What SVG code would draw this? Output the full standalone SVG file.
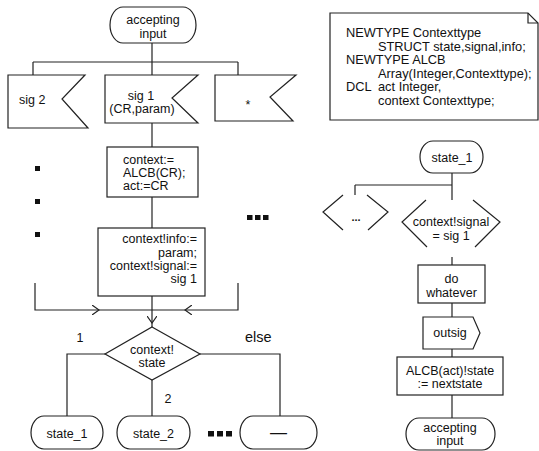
<svg xmlns="http://www.w3.org/2000/svg" width="539" height="451" viewBox="0 0 539 451">
  <defs>
    <style>
      .shape { fill: #fff; stroke: #222; stroke-width: 1.2; }
      .open { fill: none; stroke: #222; stroke-width: 1.2; }
      .line { fill: none; stroke: #222; stroke-width: 1.2; }
      .t { font-family: "Liberation Sans", Arial, Helvetica, sans-serif; font-size: 12.5px; fill: #111; }
      .c { text-anchor: middle; }
      .r { text-anchor: end; }
      .note { font-size: 12.8px; }
      .dot { fill: #111; }
    </style>
    <marker id="chev" viewBox="0 0 8 10" refX="7" refY="5" markerWidth="8" markerHeight="10" markerUnits="userSpaceOnUse" orient="auto">
      <path d="M0,0 L7,5 L0,10" fill="none" stroke="#222" stroke-width="1.2"/>
    </marker>
  </defs>

  <rect width="539" height="451" fill="#fff"/>

  <!-- connectors -->
  <g id="connectors">
    <!-- left process -->
    <path class="line" d="M152,43 V62 M33,62 H238 M33,62 V75 M152,62 V75 M238,62 V75"/>
    <path class="line" d="M152,123 V147"/>
    <path class="line" d="M152,197 V228"/>
    <path class="line" d="M152,296 V323" marker-end="url(#chev)"/>
    <path class="line" d="M152,323 V327"/>
    <path class="line" d="M35,283 V310 H99" marker-end="url(#chev)"/>
    <path class="line" d="M99,310 H152"/>
    <path class="line" d="M238,283 V310 H185" marker-end="url(#chev)"/>
    <path class="line" d="M185,310 H152"/>
    <path class="line" d="M105,354 H67 V416"/>
    <path class="line" d="M152,380 V416"/>
    <path class="line" d="M200,354 H280 V416"/>
    <!-- right process -->
    <path class="line" d="M452,173 V185 M355,185 H452 M355,185 V195 M452,185 V200"/>
    <path class="line" d="M452,257 V265"/>
    <path class="line" d="M452,303 V317"/>
    <path class="line" d="M452,349 V357"/>
    <path class="line" d="M452,395 V418"/>
  </g>

  <!-- left process: start state -->
  <g id="start-accepting">
    <path class="shape" d="M123,7 H183 A13,18 0 0 1 183,43 H123 A13,18 0 0 1 123,7 Z"/>
    <text class="t c" x="153" y="24">accepting</text>
    <text class="t c" x="153" y="37.5">input</text>
  </g>

  <!-- inputs -->
  <g id="in-sig2">
    <path class="shape" d="M8,75 H85 L62,99 L88,128 H8 Z"/>
    <text class="t" x="19" y="104">sig 2</text>
  </g>
  <g id="in-sig1">
    <path class="shape" d="M105,75 H198 L172,98 L198,123 H105 Z"/>
    <text class="t c" x="141" y="100">sig 1</text>
    <text class="t c" x="142" y="113">(CR,param)</text>
  </g>
  <g id="in-any">
    <path class="shape" d="M215,75 H296 L270,97 L293,121 H215 Z"/>
    <text class="t c" x="248" y="109">*</text>
  </g>

  <!-- tasks -->
  <g id="task-context">
    <rect class="shape" x="107" y="147" width="91" height="50"/>
    <text class="t" x="123" y="164">context:=</text>
    <text class="t" x="123" y="177">ALCB(CR);</text>
    <text class="t" x="123" y="190">act:=CR</text>
  </g>
  <g id="task-info">
    <rect class="shape" x="98" y="228" width="107" height="68"/>
    <text class="t r" x="197" y="243">context!info:=</text>
    <text class="t r" x="197" y="257">param;</text>
    <text class="t r" x="197" y="270">context!signal:=</text>
    <text class="t r" x="197" y="283">sig 1</text>
  </g>

  <!-- ellipsis markers -->
  <g id="dots-left">
    <rect class="dot" x="35" y="166" width="5" height="5"/>
    <rect class="dot" x="35" y="199" width="5" height="5"/>
    <rect class="dot" x="35" y="232" width="5" height="5"/>
  </g>
  <g id="dots-mid">
    <rect class="dot" x="247" y="215" width="5.5" height="5"/>
    <rect class="dot" x="255" y="215" width="5.5" height="5"/>
    <rect class="dot" x="263" y="215" width="5.5" height="5"/>
  </g>

  <!-- decision -->
  <g id="decision-state">
    <path class="shape" d="M152,327 L200,354 L152,380 L105,354 Z"/>
    <text class="t c" x="152" y="354">context!</text>
    <text class="t c" x="152" y="367">state</text>
    <text class="t c" x="80" y="342">1</text>
    <text class="t c" x="168" y="403">2</text>
    <text class="t" x="245" y="342" style="font-size:14.5px">else</text>
  </g>

  <!-- next states -->
  <g id="next-state1">
    <path class="shape" d="M44,416 H90 A13,16.5 0 0 1 90,449 H44 A13,16.5 0 0 1 44,416 Z"/>
    <text class="t c" x="67" y="438">state_1</text>
  </g>
  <g id="next-state2">
    <path class="shape" d="M130,416 H177 A13,16.5 0 0 1 177,449 H130 A13,16.5 0 0 1 130,416 Z"/>
    <text class="t c" x="153.5" y="438">state_2</text>
  </g>
  <g id="dots-bottom">
    <rect class="dot" x="208" y="431" width="6" height="5.5"/>
    <rect class="dot" x="217" y="431" width="6" height="5.5"/>
    <rect class="dot" x="226" y="431" width="6" height="5.5"/>
  </g>
  <g id="next-dash">
    <path class="shape" d="M253,416 H304 A13,16.5 0 0 1 304,449 H253 A13,16.5 0 0 1 253,416 Z"/>
    <text class="t c" x="278.5" y="438" style="font-size:17px">—</text>
  </g>

  <!-- declarations (text symbol) -->
  <g id="declarations">
    <path class="shape" d="M330,13 H528 L538,23 V120 H330 Z"/>
    <path class="open" d="M528,13 V23 H538"/>
    <text class="t note" x="346" y="37">NEWTYPE Contexttype</text>
    <text class="t note" x="378" y="50.6">STRUCT state,signal,info;</text>
    <text class="t note" x="346" y="64.2">NEWTYPE ALCB</text>
    <text class="t note" x="378" y="77.8">Array(Integer,Contexttype);</text>
    <text class="t note" x="346" y="91.4">DCL</text>
    <text class="t note" x="378" y="91.4">act Integer,</text>
    <text class="t note" x="378" y="105">context Contexttype;</text>
  </g>

  <!-- right process -->
  <g id="state1">
    <path class="shape" d="M433,141 H470 A13,16 0 0 1 470,173 H433 A13,16 0 0 1 433,141 Z"/>
    <text class="t c" x="452" y="162">state_1</text>
  </g>
  <g id="cond-other">
    <path class="open" d="M343,195 L323,212 L343,230 M367,195 L388,212 L368,230"/>
    <text class="t c" x="356" y="221" style="font-weight:bold;font-size:11px">...</text>
  </g>
  <g id="cond-signal">
    <path class="open" d="M426,200 L402,222 L427,247 M473,200 L500,222 L475,247"/>
    <text class="t c" x="451" y="226">context!signal</text>
    <text class="t c" x="451" y="240">= sig 1</text>
  </g>
  <g id="task-whatever">
    <rect class="shape" x="418" y="265" width="67" height="38"/>
    <text class="t c" x="451.5" y="283">do</text>
    <text class="t c" x="451.5" y="297">whatever</text>
  </g>
  <g id="out-outsig">
    <path class="shape" d="M423,317 H473 L480,333 L473,349 H423 Z"/>
    <text class="t c" x="450" y="337">outsig</text>
  </g>
  <g id="task-nextstate">
    <rect class="shape" x="397" y="357" width="106" height="38"/>
    <text class="t c" x="450" y="375">ALCB(act)!state</text>
    <text class="t c" x="450" y="388">:= nextstate</text>
  </g>
  <g id="end-accepting">
    <path class="shape" d="M419,418 H482 A13,16 0 0 1 482,450 H419 A13,16 0 0 1 419,418 Z"/>
    <text class="t c" x="450" y="432">accepting</text>
    <text class="t c" x="450" y="445">input</text>
  </g>
</svg>
